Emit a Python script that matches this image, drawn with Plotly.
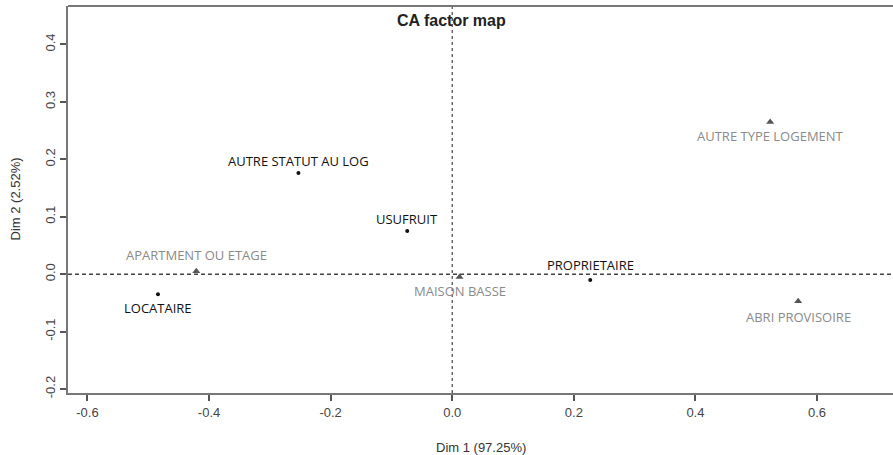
import plotly.graph_objects as go

# Row points (dots, black labels)
row_labels = ["AUTRE STATUT AU LOG", "USUFRUIT", "LOCATAIRE", "PROPRIETAIRE"]
row_dim1 = [-0.253, -0.074, -0.484, 0.227]
row_dim2 = [0.176, 0.075, -0.035, -0.010]

# Column points (triangles, gray labels)
col_labels = ["APARTMENT OU ETAGE", "MAISON BASSE", "AUTRE TYPE LOGEMENT", "ABRI PROVISOIRE"]
col_dim1 = [-0.421, 0.012, 0.523, 0.569]
col_dim2 = [0.005, -0.005, 0.265, -0.047]

x_ticks = [-0.6, -0.4, -0.2, 0.0, 0.2, 0.4, 0.6]
y_ticks = [-0.2, -0.1, 0.0, 0.1, 0.2, 0.3, 0.4]

# label offsets (pixels, style only)
row_shift = [12, 12, -14, 15]
col_shift = [16, -14, -14, -16]

fig = go.Figure()
fig.add_trace(go.Scatter(x=row_dim1, y=row_dim2, mode="markers",
                         marker=dict(symbol="circle", size=4, color="#111111"),
                         hoverinfo="skip", showlegend=False))
fig.add_trace(go.Scatter(x=col_dim1, y=col_dim2, mode="markers",
                         marker=dict(symbol="triangle-up", size=7, color="#555555"),
                         hoverinfo="skip", showlegend=False))

ann = []
for t, x, y, s in zip(row_labels, row_dim1, row_dim2, row_shift):
    ann.append(dict(x=x, y=y, xref="x", yref="y", text=t, showarrow=False, yshift=s,
                    font=dict(family="Open Sans", size=13, color="#111111")))
for t, x, y, s in zip(col_labels, col_dim1, col_dim2, col_shift):
    ann.append(dict(x=x, y=y, xref="x", yref="y", text=t, showarrow=False, yshift=s,
                    font=dict(family="Open Sans", size=13, color="#8a8a8a")))
ann.append(dict(x=0.465, y=1, xref="paper", yref="paper", yanchor="middle", yshift=-14,
                text="<b>CA factor map</b>", showarrow=False,
                font=dict(family="Liberation Sans", size=16, color="#222222")))
ann.append(dict(x=0.5, y=0, xref="paper", yref="paper", yanchor="middle", yshift=-54,
                text="Dim 1 (97.25%)", showarrow=False,
                font=dict(family="Liberation Sans", size=13, color="#333333")))
ann.append(dict(x=0, y=0.5, xref="paper", yref="paper", xanchor="center", xshift=-53,
                text="Dim 2 (2.52%)", showarrow=False, textangle=-90,
                font=dict(family="Liberation Sans", size=13, color="#333333")))

shapes = [
    dict(type="line", xref="paper", yref="y", x0=0, x1=1, y0=0, y1=0,
         line=dict(color="#444444", width=1.5, dash="4px,3px")),
    dict(type="line", xref="x", yref="paper", x0=0, x1=0, y0=0, y1=1,
         line=dict(color="#444444", width=1.2, dash="3px,3px")),
    dict(type="line", xref="paper", yref="paper", x0=0, x1=1, y0=1, y1=1,
         line=dict(color="#777777", width=2)),
]

fig.update_layout(
    width=893, height=455,
    margin=dict(l=68, r=0, t=6, b=62),
    paper_bgcolor="white", plot_bgcolor="white",
    annotations=ann, shapes=shapes,
    xaxis=dict(range=[-0.632, 0.725], tickvals=x_ticks, ticktext=[f"{v:.1f}" for v in x_ticks],
               showgrid=False, zeroline=False, showline=True, linecolor="#777777", linewidth=2,
               ticks="outside", ticklen=6, tickcolor="#555555", tickwidth=1.5,
               tickfont=dict(family="Liberation Sans", size=13, color="#444444")),
    yaxis=dict(range=[-0.207, 0.467], tickvals=y_ticks, ticktext=[f"{v:.1f}" for v in y_ticks],
               showgrid=False, zeroline=False, showline=True, linecolor="#777777", linewidth=2,
               ticks="outside", ticklen=6, tickcolor="#555555", tickwidth=1.5, tickangle=-90,
               tickfont=dict(family="Liberation Sans", size=13, color="#444444")),
)

fig.write_html("out.html", config={"displayModeBar": False},
               post_script="document.body.style.margin='0';")
